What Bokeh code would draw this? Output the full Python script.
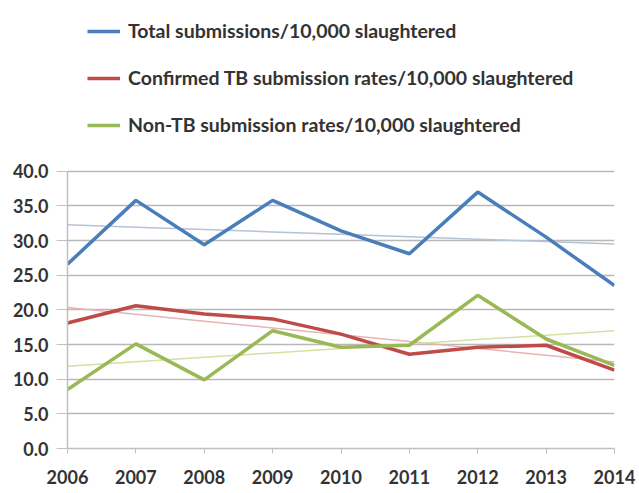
import numpy as np
from bokeh.plotting import figure
from bokeh.models import Range1d, FixedTicker, Legend, LegendItem, CustomJSTickFormatter
from bokeh.embed import file_html
from bokeh.resources import INLINE

years = [2006, 2007, 2008, 2009, 2010, 2011, 2012, 2013, 2014]
total = [26.6, 35.8, 29.4, 35.8, 31.4, 28.1, 37.0, 30.5, 23.5]
confirmed = [18.1, 20.6, 19.4, 18.7, 16.5, 13.6, 14.6, 14.9, 11.3]
non_tb = [8.5, 15.1, 9.9, 17.0, 14.6, 14.9, 22.1, 15.8, 12.0]
y_ticks = [0, 5, 10, 15, 20, 25, 30, 35, 40]

labels = [
    "Total submissions/10,000 slaughtered",
    "Confirmed TB submission rates/10,000 slaughtered",
    "Non-TB submission rates/10,000 slaughtered",
]
colors = ["#4a7ebb", "#be4b48", "#98b954"]
trend_colors = ["#b4c3d6", "#e6b4b4", "#d6e0a0"]

FONT = "Lato"

p = figure(width=637, height=491, output_backend="svg", toolbar_location=None,
           x_range=Range1d(2006, 2014), y_range=Range1d(0, 63.2),
           min_border_left=67, min_border_right=23, min_border_top=10, min_border_bottom=43)
p.outline_line_color = None
p.background_fill_color = "white"
p.border_fill_color = "white"

# axes
p.xaxis.ticker = FixedTicker(ticks=years)
p.yaxis.ticker = FixedTicker(ticks=y_ticks)
p.yaxis.formatter = CustomJSTickFormatter(code="return tick.toFixed(1);")
p.yaxis.bounds = (0, 40)
for ax in (p.xaxis[0], p.yaxis[0]):
    ax.axis_line_color = "#c0c0c0"
    ax.axis_line_width = 1.5
    ax.major_tick_line_color = "#c0c0c0"
    ax.major_tick_in = 0
    ax.minor_tick_line_color = None
    ax.major_label_text_font = FONT
    ax.major_label_text_font_size = "18px"
    ax.major_label_text_color = "#333333"
    ax.major_label_text_font_style = "bold"
p.xaxis.major_tick_out = 5
p.yaxis.major_tick_out = 11
p.yaxis.major_label_standoff = 8
p.xaxis.major_label_standoff = 16
p.xgrid.grid_line_color = None
p.ygrid.grid_line_color = "#b8b8b8"
p.ygrid.grid_line_width = 1.5

# trendlines (least squares from the data)
x = np.array(years, dtype=float)
for series, tc in zip([total, confirmed, non_tb], trend_colors):
    k, b = np.polyfit(x, np.array(series), 1)
    p.line(x, k * x + b, line_color=tc, line_width=1.5)

renderers = []
for series, c in zip([total, confirmed, non_tb], colors):
    r = p.line(years, series, line_color=c, line_width=3.5)
    renderers.append(r)

legend = Legend(items=[LegendItem(label=l, renderers=[r]) for l, r in zip(labels, renderers)],
                location=(20, 312), orientation="vertical")
legend.label_text_font = FONT
legend.label_text_font_size = "19.5px"
legend.label_text_font_style = "bold"
legend.label_text_color = "#333333"
legend.glyph_width = 33
legend.glyph_height = 22
legend.label_height = 22
legend.label_standoff = 8
legend.spacing = 24
legend.padding = 0
legend.margin = 0
legend.border_line_color = None
legend.background_fill_alpha = 0
p.add_layout(legend, "center")

open("out.html", "w").write(file_html(p, INLINE))
